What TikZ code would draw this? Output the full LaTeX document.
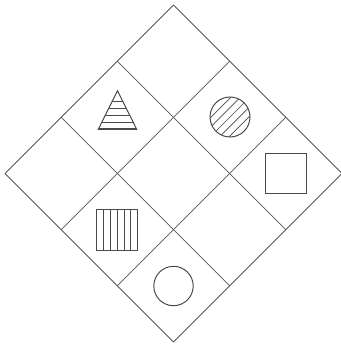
\documentclass[tikz,border=0pt]{standalone}
\usepackage{tikz}
\usetikzlibrary{calc}
\definecolor{gridgray}{HTML}{555555}
\definecolor{figgray}{HTML}{4A4A4A}

\begin{document}
\begin{tikzpicture}[x=0.75pt, y=-0.75pt,
  gridline/.style={draw=gridgray, line width=0.6pt},
  figline/.style={draw=figgray, line width=0.75pt},
  hatchline/.style={draw=figgray, line width=0.5pt}]
\useasboundingbox (0,0) rectangle (340,345);
% corners of the board
\coordinate (top) at (173.5,5);
\coordinate (lft) at (5,173.5);
\coordinate (rgt) at (342,173.5);
\coordinate (bot) at (173.5,342);
% 3x3 grid, turned by 45 degrees
\foreach \k in {0,1,2,3}{
  \draw[gridline] ($(top)!\k/3!(lft)$) -- ($(rgt)!\k/3!(bot)$);
  \draw[gridline] ($(top)!\k/3!(rgt)$) -- ($(lft)!\k/3!(bot)$);
}
% striped triangle
\coordinate (tri) at (117.5,110);
\begin{scope}
  \clip (117.5,90.7) -- (136.7,129.3) -- (98.3,129.3) -- cycle;
  \foreach \y in {101.7,108.5,115.4,122.3}
    \draw[hatchline] (95,\y) -- (140,\y);
\end{scope}
\draw[figline] (117.5,90.7) -- (136.7,129.3) -- (98.3,129.3) -- cycle;
\draw[figline] (98.8,128.3) -- (136.2,128.3);
% hatched circle
\coordinate (hcirc) at (230,117);
\begin{scope}
  \clip (hcirc) circle (20);
  \foreach \d in {-18.8,-9.4,0,9.4,18.8}
    \draw[hatchline] ($(hcirc)+(\d/2,\d/2)+(-30,30)$) -- ($(hcirc)+(\d/2,\d/2)+(30,-30)$);
\end{scope}
\draw[figline] (hcirc) circle (20);
% plain square
\coordinate (sq) at (286,173.5);
\draw[figline] ($(sq)+(-20.5,-20)$) rectangle ($(sq)+(20.5,20)$);
% striped square
\coordinate (vsq) at (117,229.5);
\foreach \i in {1,...,5}
  \draw[hatchline] ($(vsq)+(-20.5+\i*41/6,-20.5)$) -- ($(vsq)+(-20.5+\i*41/6,20.5)$);
\draw[figline] ($(vsq)+(-20.5,-20.5)$) rectangle ($(vsq)+(20.5,20.5)$);
% plain circle
\coordinate (circ) at (173.5,286);
\draw[figline] (circ) circle (19.7);
\end{tikzpicture}
\end{document}
